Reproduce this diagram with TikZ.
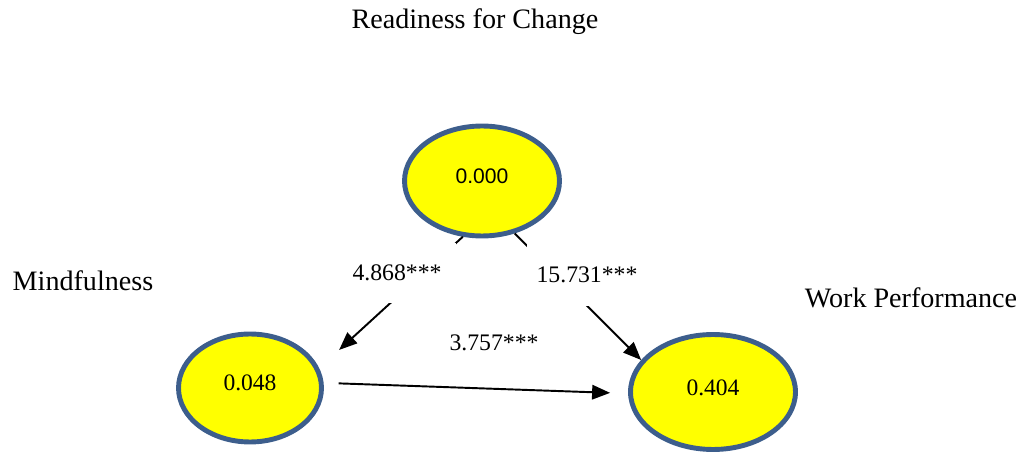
\documentclass[tikz,border=0pt]{standalone}
\usepackage{fontspec}
\setmainfont{Liberation Serif}
\setsansfont{Liberation Sans}
\usepackage{xcolor}
\usetikzlibrary{arrows.meta,shapes.geometric}
\definecolor{rimblue}{RGB}{61,94,140}
\definecolor{bubbleyellow}{RGB}{255,255,0}

\begin{document}
\begin{tikzpicture}[
    x=0.02cm, y=-0.02cm,
    bubble/.style={ellipse, draw=rimblue, line width=2.8pt, fill=bubbleyellow, inner sep=0pt,
        font=\fontsize{13.4}{15}\selectfont},
    title/.style={font=\fontsize{16}{19}\selectfont},
    coef/.style={fill=white, inner sep=0pt, font=\fontsize{13.5}{16}\selectfont},
    arr/.style={draw, line width=1.1pt, -{Triangle[length=0.36cm,width=0.29cm]}}
]
    \useasboundingbox (0,0) rectangle (1028,452);

    % Latent variables
    \node[bubble, minimum width=3.1cm, minimum height=2.2cm] (rfc) at (482,181)
        {\raisebox{0.18cm}{\sffamily\fontsize{12}{14}\selectfont 0.000}};
    \node[bubble, minimum width=2.86cm, minimum height=2.16cm] (mind) at (250,388)
        {\raisebox{0.2cm}{0.048}};
    \node[bubble, minimum width=3.3cm, minimum height=2.3cm] (work) at (713,392)
        {\raisebox{0.18cm}{0.404}};

    % Titles
    \node[title] (trfc) at (475,22) {Readiness for Change};
    \node[title] (tmind) at (83,281) {Mindfulness};
    \node[title] (twork) at (911,298) {Work Performance};

    % Paths
    \draw[arr, shorten >=0.54cm] (rfc.251) -- (mind.16);
    \draw[arr] (rfc.302) -- (work.156);
    \draw[arr, shorten <=0.3cm, shorten >=0.36cm] (mind.4) -- (work.181);

    % Path coefficients
    \node[coef, minimum width=2.36cm, minimum height=1.2cm] (c1) at (397,273) {4.868***};
    \node[coef, minimum width=2.42cm, minimum height=1.26cm] (c2) at (587,275) {15.731***};
    \node[font=\fontsize{13.5}{16}\selectfont] (c3) at (494,343) {3.757***};
\end{tikzpicture}
\end{document}
